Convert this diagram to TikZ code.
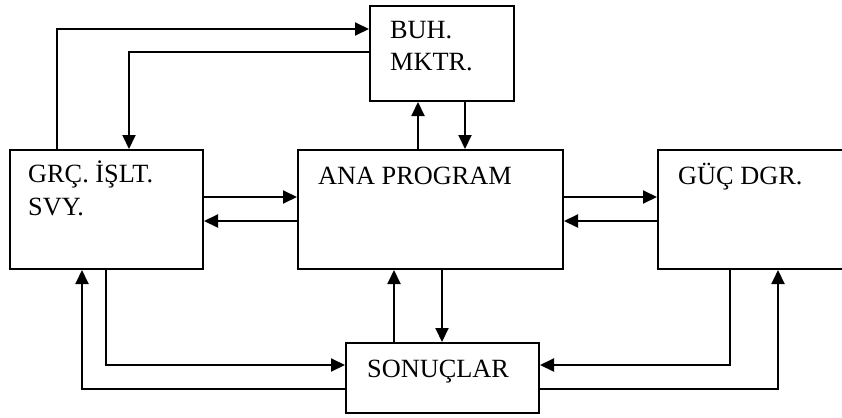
\documentclass[tikz,border=0pt]{standalone}
\usepackage{fontspec}
\setmainfont{Liberation Serif}
\usetikzlibrary{arrows.meta}
\begin{document}
\begin{tikzpicture}[x=1pt,y=-1pt,
  box/.style={draw, line width=2pt, inner sep=0pt, anchor=north west},
  lbl/.style={inner sep=0pt, anchor=base west, align=left, font=\fontsize{26.3}{32.5}\selectfont},
  arr/.style={line width=2pt, -{Triangle[length=14pt,width=13pt]}}]
\useasboundingbox (0,0) rectangle (842,417);
\clip (0,0) rectangle (842,417);
% boxes
\node[box, minimum width=144pt, minimum height=95pt] (buh) at (369,5) {};
\node[box, minimum width=193pt, minimum height=119pt] (grc) at (9,149) {};
\node[box, minimum width=265pt, minimum height=119pt] (ana) at (297,149) {};
\node[box, minimum width=200pt, minimum height=119pt] (guc) at (657,149) {};
\node[box, minimum width=193pt, minimum height=70pt] (son) at (345,342) {};
% labels (base = baseline of last line)
\node[lbl] (buhT) at (390,71) {BUH.\\MKTR.};
\node[lbl] (grcT) at (28,215) {GRÇ. İŞLT.\\SVY.};
\node[lbl] (anaT) at (318,184) {ANA PROGRAM};
\node[lbl] (gucT) at (678,184) {GÜÇ DGR.};
\node[lbl] (sonT) at (367,377) {SONUÇLAR};
% routing coordinates
\coordinate (c1) at (57,29);
\coordinate (c2) at (129,52);
\coordinate (c3) at (418,0);
\coordinate (c4) at (465,0);
\coordinate (c5) at (0,197);
\coordinate (c6) at (0,221);
\coordinate (c7) at (106,365);
\coordinate (c8) at (82,389);
\coordinate (c9) at (394,0);
\coordinate (c10) at (442,0);
\coordinate (c11) at (730,365);
\coordinate (c12) at (778,389);
% connectors
\draw[arr] (grc.north -| c1) |- (buh.west |- c1);
\draw[arr] (buh.west |- c2) -| (grc.north -| c2);
\draw[arr] (ana.north -| c3) -- (buh.south -| c3);
\draw[arr] (buh.south -| c4) -- (ana.north -| c4);
\draw[arr] (grc.east |- c5) -- (ana.west |- c5);
\draw[arr] (ana.west |- c6) -- (grc.east |- c6);
\draw[arr] (ana.east |- c5) -- (guc.west |- c5);
\draw[arr] (guc.west |- c6) -- (ana.east |- c6);
\draw[arr] (grc.south -| c7) |- (son.west |- c7);
\draw[arr] (son.west |- c8) -| (grc.south -| c8);
\draw[arr] (son.north -| c9) -- (ana.south -| c9);
\draw[arr] (ana.south -| c10) -- (son.north -| c10);
\draw[arr] (guc.south -| c11) |- (son.east |- c11);
\draw[arr] (son.east |- c12) -| (guc.south -| c12);
\end{tikzpicture}
\end{document}
